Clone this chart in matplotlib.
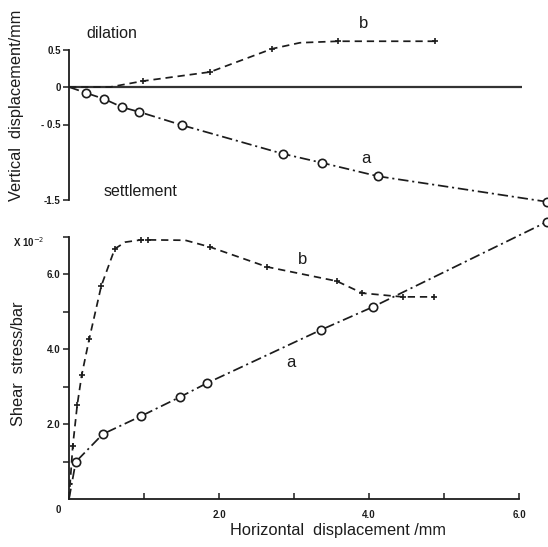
import matplotlib
matplotlib.use("Agg")
import matplotlib.pyplot as plt
import numpy as np

plt.rcParams["font.family"] = ["Liberation Sans", "DejaVu Sans"]

W, H = 548, 547
INK = "#1c1c1c"

# horizontal displacement (mm) vs vertical displacement (mm)
vert_a_x = [0.0, 0.23, 0.47, 0.71, 0.93, 1.51, 2.85, 3.37, 4.12, 6.37]
vert_a_y = [0.0, -0.08, -0.16, -0.27, -0.33, -0.51, -0.89, -1.01, -1.19, -1.53]
vert_a_marked = [1, 2, 3, 4, 5, 6, 7, 8, 9]

vert_b_x = [0.0, 0.55, 0.99, 1.88, 2.71, 3.08, 3.59, 4.88]
vert_b_y = [0.0, 0.0, 0.08, 0.20, 0.51, 0.59, 0.61, 0.61]
vert_b_marked = [2, 3, 4, 6, 7]

# horizontal displacement (mm) vs shear stress (x1e-2 bar)
shear_a_x = [0.0, 0.09, 0.45, 0.96, 1.48, 1.84, 3.36, 4.05, 6.37]
shear_a_y = [0.0, 0.99, 1.73, 2.21, 2.72, 3.09, 4.51, 5.12, 7.39]
shear_a_marked = [1, 2, 3, 4, 5, 6, 7, 8]

shear_b_x = [0.0, 0.05, 0.11, 0.17, 0.27, 0.43, 0.61, 0.75, 0.96, 1.05,
             1.55, 1.88, 2.64, 3.57, 3.91, 4.45, 4.87]
shear_b_y = [0.0, 1.41, 2.51, 3.31, 4.27, 5.68, 6.67, 6.85, 6.91, 6.91,
             6.90, 6.72, 6.19, 5.81, 5.49, 5.39, 5.39]
shear_b_marked = [1, 2, 3, 4, 5, 6, 8, 9, 11, 12, 13, 14, 15, 16]

x_ticks = [1, 2, 3, 4, 5, 6]
x_ticklabels = ["", "2.0", "", "4.0", "", "6.0"]
vert_ticks = [0.5, 0.0, -0.5, -1.5]
vert_ticklabels = ["0.5", "0", "- 0.5", "-1.5"]
shear_ticks = [1, 2, 3, 4, 5, 6, 7]
shear_ticklabels = ["", "2.0", "", "4.0", "", "6.0", ""]

DASH_B = (0, (4.2, 2.8))
DASH_A = (0, (6.0, 2.2, 1.2, 2.2))
LABEL_SIZE = 11.8


def px_axes(fig, left, top, right, bottom):
    return fig.add_axes([left / W, 1 - bottom / H, (right - left) / W, (bottom - top) / H])


def draw_curve(ax, xs, ys, marked, ls, marker, **mkw):
    ax.plot(xs, ys, ls=ls, color=INK, lw=1.25, clip_on=False)
    mx = [xs[i] for i in marked]
    my = [ys[i] for i in marked]
    ax.plot(mx, my, ls="none", marker=marker, color=INK, clip_on=False, **mkw)


def style_axis(ax):
    for side in ("top", "right"):
        ax.spines[side].set_visible(False)
    ax.spines["left"].set_color(INK)
    ax.spines["left"].set_linewidth(1.3)
    ax.tick_params(axis="y", direction="out", length=4, width=1.1, pad=2,
                   colors=INK, labelsize=7)
    for lab in ax.get_yticklabels():
        lab.set_fontweight("bold")


fig = plt.figure(figsize=(W / 100, H / 100), dpi=100)

xmax = (W - 69) / 75

# upper panel: vertical displacement
ax1 = px_axes(fig, 69, 30, W, 210)
ax1.set_xlim(0, xmax)
ax1.set_ylim((87 - 210) / 75, (87 - 30) / 75)
ax1.spines["bottom"].set_visible(False)
ax1.set_xticks([])
ax1.set_yticks(vert_ticks)
ax1.set_yticklabels(vert_ticklabels)
ax1.spines["left"].set_bounds(-1.5, 0.5)
style_axis(ax1)
ax1.hlines(0, 0, 6.04, color="#333333", lw=1.6)

draw_curve(ax1, vert_b_x, vert_b_y, vert_b_marked, DASH_B, "+", ms=4, mew=1.2)
draw_curve(ax1, vert_a_x, vert_a_y, vert_a_marked, DASH_A, "o",
           ms=6, mfc="white", mew=1.2, mec=INK)

ax1.text(3.93, 0.84, "b", fontsize=12, color=INK, ha="center", va="center")
ax1.text(3.96, -0.95, "a", fontsize=12, color=INK, ha="center", va="center")
ax1.text(0.57, 0.72, "dilation", fontsize=11.5, color=INK, ha="center", va="center")
ax1.text(0.96, -1.40, "settlement", fontsize=11.5, color=INK, ha="center", va="center")

# lower panel: shear stress
ax2 = px_axes(fig, 69, 215, W, 499)
ax2.set_xlim(0, xmax)
ax2.set_ylim(0, (499 - 215) / 37.5)
ax2.set_xticks(x_ticks)
ax2.set_xticklabels(x_ticklabels)
ax2.set_yticks(shear_ticks)
ax2.set_yticklabels(shear_ticklabels)
ax2.spines["left"].set_bounds(0, 7)
ax2.spines["bottom"].set_bounds(0, 6)
ax2.spines["bottom"].set_color(INK)
ax2.spines["bottom"].set_linewidth(1.3)
style_axis(ax2)
ax2.tick_params(axis="x", direction="in", length=4, width=1.1, pad=8,
                colors=INK, labelsize=7)
for lab in ax2.get_xticklabels():
    lab.set_fontweight("bold")

draw_curve(ax2, shear_b_x, shear_b_y, shear_b_marked, DASH_B, "+", ms=4, mew=1.2)
draw_curve(ax2, shear_a_x, shear_a_y, shear_a_marked, DASH_A, "o",
           ms=6, mfc="white", mew=1.2, mec=INK)

ax2.text(3.11, 6.4, "b", fontsize=12, color=INK, ha="center", va="center")
ax2.text(2.96, 3.65, "a", fontsize=12, color=INK, ha="center", va="center")
ax2.annotate("0", xy=(0, 0), xytext=(-8, -8), textcoords="offset points",
             fontsize=7, fontweight="bold", color=INK, ha="center", va="center")

fig.text(29 / W, 1 - 242 / H, "X 10$^{-2}$", fontsize=7, fontweight="bold",
         color=INK, ha="center", va="center")

fig.text(17 / W, 1 - 105 / H, "Vertical  displacement/mm", rotation=90,
         fontsize=LABEL_SIZE, color=INK, ha="center", va="center")
fig.text(19 / W, 1 - 364 / H, "Shear  stress/bar", rotation=90,
         fontsize=LABEL_SIZE, color=INK, ha="center", va="center")
fig.text(338 / W, 1 - 531 / H, "Horizontal  displacement /mm",
         fontsize=LABEL_SIZE, color=INK, ha="center", va="center")

fig.savefig("out.png", dpi=100, facecolor="white")
